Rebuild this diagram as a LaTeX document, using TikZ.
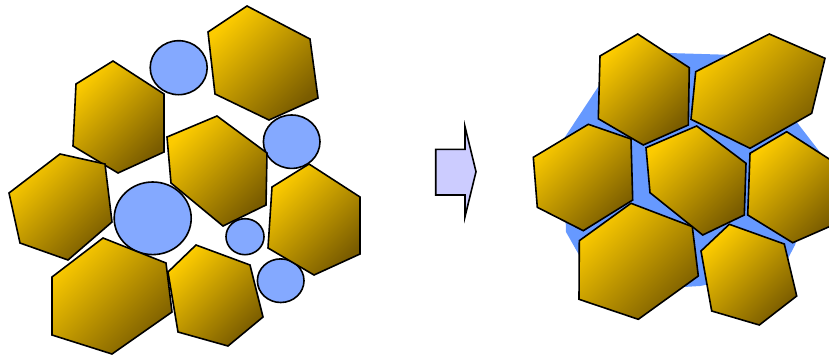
\documentclass[tikz,border=0pt]{standalone}
\begin{document}
\begin{tikzpicture}[x=1pt,y=-1pt,
  hexa/.style={draw=black,line width=1.6pt,line join=miter,top color=gold1,bottom color=gold2,shading angle=45},
  pore/.style={draw=black,line width=1.6pt,fill=poreblue},
  arrowshape/.style={draw=black,line width=1.6pt,fill=arrowfill,line join=miter}]
\definecolor{gold1}{HTML}{FCCB00}
\definecolor{gold2}{HTML}{7A5C00}
\definecolor{poreblue}{HTML}{84A9FF}
\definecolor{matrixblue}{HTML}{6699FF}
\definecolor{arrowfill}{HTML}{CCCCFF}
\useasboundingbox (0,0) rectangle (829,356);
\clip (0,0) rectangle (829,356);
% ---------- left cluster: pores ----------
\draw[pore] (178.7,67.7) ellipse [x radius=28.5,y radius=27];
\draw[pore] (291.7,141.7) ellipse [x radius=28.3,y radius=26.7];
\draw[pore] (152.7,218.3) ellipse [x radius=38.5,y radius=36.3];
\draw[pore] (245,236.7) ellipse [x radius=19,y radius=18];
\draw[pore] (280.7,280.7) ellipse [x radius=23.3,y radius=21.8];
% ---------- left cluster: grains ----------
\draw[hexa] (208,32) -- (247,6) -- (310,39) -- (318,98) -- (269,120) -- (215,94) -- cycle;
\draw[hexa] (76,84) -- (113,61) -- (164,94) -- (164,152) -- (118,173) -- (73,146) -- cycle;
\draw[hexa] (167,137) -- (217,116) -- (267,153) -- (266,205) -- (223,226) -- (171,183) -- cycle;
\draw[hexa] (9,193) -- (60,154) -- (105,164) -- (112,222) -- (68,260) -- (20,243) -- cycle;
\draw[hexa] (272,187) -- (309,164) -- (360,197) -- (360,254) -- (314,275) -- (268,248) -- cycle;
\draw[hexa] (52,277) -- (103,238) -- (166,263) -- (172,312) -- (112,354) -- (52,335) -- cycle;
\draw[hexa] (168,272) -- (196,245) -- (250,265) -- (263,317) -- (228,346) -- (178,332) -- cycle;
% ---------- arrow ----------
\draw[arrowshape] (435.7,149.3) -- (465,149.3) -- (465,126.7) -- (476,171.7) -- (465,216.7) -- (465,195) -- (435.7,195) -- cycle;
% ---------- right cluster: matrix ----------
\fill[matrixblue] (635,52) -- (735,55) -- (792,116) -- (826,160) -- (795,245) -- (782,270) -- (700,286) -- (600,292) -- (566,232) -- (563,140) -- (600,84) -- cycle;
% ---------- right cluster: grains ----------
\draw[hexa] (600,56) -- (637.7,34) -- (689.3,67.7) -- (688.3,125) -- (643.3,145) -- (598.3,118.7) -- cycle;
\draw[hexa] (695.7,71.7) -- (769.3,34) -- (825,58.3) -- (811.7,113.3) -- (750,148.3) -- (691,119.3) -- cycle;
\draw[hexa] (533.3,157.3) -- (588.3,124.3) -- (631,139) -- (632.7,200) -- (583.3,230.7) -- (537.3,207.3) -- cycle;
\draw[hexa] (646,147.7) -- (696.7,126) -- (746,163.3) -- (744.3,215) -- (702.7,235) -- (650,192.7) -- cycle;
\draw[hexa] (750,153.3) -- (786.7,131.7) -- (840,166) -- (840,222) -- (792.7,242.7) -- (747.7,215) -- cycle;
\draw[hexa] (579.3,240.7) -- (631,203.3) -- (692.3,226.7) -- (698.3,276) -- (638.3,319.3) -- (579,299.3) -- cycle;
\draw[hexa] (701,251) -- (729.3,224.3) -- (784.3,244) -- (796.7,296) -- (759.3,325) -- (711.7,311) -- cycle;
\end{tikzpicture}
\end{document}
